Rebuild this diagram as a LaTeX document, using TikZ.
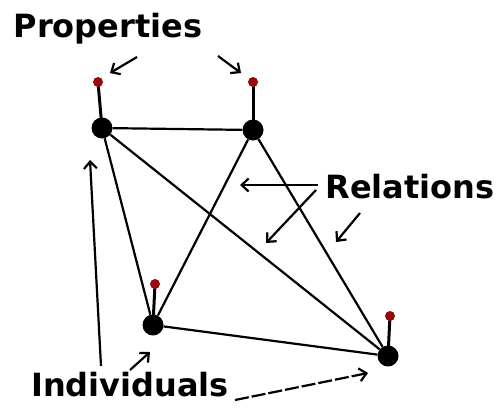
\documentclass[tikz,border=0pt]{standalone}
\usepackage{fontspec}
\setmainfont{DejaVu Sans}
\usetikzlibrary{arrows.meta,backgrounds}
\definecolor{propred}{RGB}{150,10,10}
\tikzset{
  indiv/.style={circle,fill=black,minimum size=21pt,inner sep=0pt},
  prop/.style={circle,fill=propred,minimum size=10pt,inner sep=0pt},
  rel/.style={line width=2.2pt},
  stem/.style={line width=3pt},
  lab/.style={font=\bfseries\fontsize{32}{36}\selectfont,inner sep=0pt},
  pointer/.style={line width=2.2pt,-{Straight Barb[length=7pt,width=13pt,line width=2.2pt]}}
}
\begin{document}
\begin{tikzpicture}[x=1pt,y=-1pt]
\useasboundingbox (0,0) rectangle (497,410);
% individuals
\node[indiv] (A) at (102,128) {};
\node[indiv] (B) at (253,130) {};
\node[indiv] (C) at (153,325) {};
\node[indiv] (D) at (388,356) {};
% properties
\node[prop] (pA) at (98,82) {};
\node[prop] (pB) at (253,82) {};
\node[prop] (pC) at (155,284) {};
\node[prop] (pD) at (390,316) {};
\begin{scope}[on background layer]
\draw[rel] (A) -- (B);
\draw[rel] (A) -- (C);
\draw[rel] (A) -- (D);
\draw[rel] (B) -- (C);
\draw[rel] (B) -- (D);
\draw[rel] (C) -- (D);
\draw[stem] (A.center) -- (pA.center);
\draw[stem] (B.center) -- (pB.center);
\draw[stem] (C.center) -- (pC.center);
\draw[stem] (D.center) -- (pD.center);
\end{scope}
% labels
\node[lab] (tP) at (108,29) {Properties};
\node[lab] (tR) at (410,187) {Relations};
\node[lab] (tI) at (130,385) {Individuals};
% pointer coordinates
\coordinate (p1s) at (137,57);
\coordinate (p1e) at (110,73);
\coordinate (p2s) at (218,56);
\coordinate (p2e) at (241,73);
\coordinate (r1s) at (318,185);
\coordinate (r1e) at (240,185);
\coordinate (r2s) at (316,190);
\coordinate (r2e) at (266,243);
\coordinate (r3s) at (360,213);
\coordinate (r3e) at (336,242);
\coordinate (i1s) at (101,366);
\coordinate (i1e) at (90,160);
\coordinate (i2s) at (130,370);
\coordinate (i2e) at (150,352);
\coordinate (i3s) at (235,400);
\coordinate (i3e) at (368,373);
\draw[pointer] (p1s) -- (p1e);
\draw[pointer] (p2s) -- (p2e);
\draw[pointer] (r1s) -- (r1e);
\draw[pointer] (r2s) -- (r2e);
\draw[pointer] (r3s) -- (r3e);
\draw[pointer] (i1s) -- (i1e);
\draw[pointer] (i2s) -- (i2e);
\draw[pointer,dashed,dash pattern=on 14pt off 3pt] (i3s) -- (i3e);
\end{tikzpicture}
\end{document}
